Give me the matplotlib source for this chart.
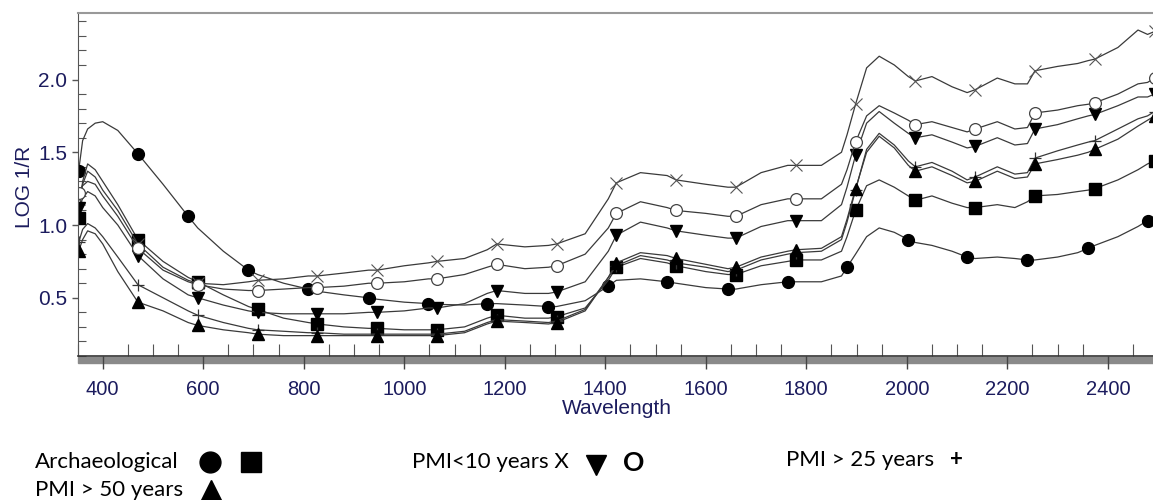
import matplotlib
matplotlib.use("Agg")
import matplotlib.pyplot as plt
from matplotlib.ticker import MultipleLocator
from matplotlib.lines import Line2D
from matplotlib.patches import Rectangle

# wavelength grid the curves were read at
wl = [352, 360, 370, 385, 400, 430, 470, 520, 570, 589,
      640, 690, 708, 760, 809, 827, 880, 929, 946, 1000,
      1048, 1065, 1120, 1165, 1184, 1240, 1287, 1303, 1360, 1406,
      1422, 1470, 1523, 1541, 1600, 1644, 1660, 1710, 1763, 1779,
      1830, 1870, 1881, 1898, 1920, 1945, 1975, 2003, 2017, 2050,
      2090, 2120, 2136, 2180, 2215, 2240, 2255, 2300, 2340, 2361,
      2374, 2420, 2460, 2479, 2493]

# archaeological (circle)
arch_circle = [1.37, 1.58, 1.66, 1.70, 1.71, 1.65, 1.49, 1.28, 1.06, 0.98,
               0.82, 0.69, 0.66, 0.60, 0.56, 0.545, 0.52, 0.50, 0.49, 0.47,
               0.46, 0.455, 0.45, 0.46, 0.46, 0.45, 0.44, 0.44, 0.48, 0.58,
               0.62, 0.63, 0.61, 0.60, 0.57, 0.56, 0.56, 0.59, 0.61, 0.61,
               0.61, 0.65, 0.71, 0.80, 0.92, 0.98, 0.95, 0.90, 0.88, 0.86,
               0.82, 0.78, 0.77, 0.78, 0.77, 0.76, 0.76, 0.78, 0.81, 0.84,
               0.86, 0.92, 0.99, 1.03, 1.05]
# archaeological (square)
arch_square = [1.05, 1.30, 1.42, 1.38, 1.30, 1.14, 0.90, 0.75, 0.64, 0.61,
               0.52, 0.44, 0.42, 0.36, 0.33, 0.32, 0.30, 0.29, 0.29, 0.28,
               0.28, 0.28, 0.30, 0.36, 0.38, 0.36, 0.36, 0.37, 0.43, 0.62,
               0.71, 0.77, 0.74, 0.72, 0.68, 0.66, 0.66, 0.72, 0.75, 0.76,
               0.76, 0.82, 0.92, 1.10, 1.27, 1.31, 1.26, 1.20, 1.17, 1.20,
               1.15, 1.12, 1.12, 1.14, 1.12, 1.16, 1.20, 1.21, 1.23, 1.24,
               1.25, 1.31, 1.38, 1.42, 1.44]
# PMI<10 years
pmi10_x = [1.18, 1.28, 1.37, 1.33, 1.24, 1.10, 0.87, 0.71, 0.62, 0.60,
           0.59, 0.61, 0.62, 0.63, 0.65, 0.65, 0.67, 0.69, 0.69, 0.72,
           0.74, 0.75, 0.77, 0.83, 0.87, 0.85, 0.86, 0.87, 0.94, 1.18,
           1.29, 1.36, 1.34, 1.31, 1.28, 1.26, 1.26, 1.36, 1.41, 1.41,
           1.41, 1.50, 1.62, 1.83, 2.08, 2.16, 2.10, 2.02, 1.99, 2.02,
           1.95, 1.91, 1.93, 2.01, 1.97, 1.97, 2.06, 2.09, 2.11, 2.13,
           2.14, 2.22, 2.34, 2.31, 2.33]
pmi10_down = [1.12, 1.18, 1.23, 1.20, 1.12, 1.00, 0.79, 0.63, 0.52, 0.50,
              0.45, 0.41, 0.40, 0.39, 0.39, 0.39, 0.39, 0.40, 0.40, 0.41,
              0.43, 0.43, 0.46, 0.53, 0.55, 0.53, 0.53, 0.54, 0.61, 0.82,
              0.93, 1.02, 0.98, 0.96, 0.93, 0.91, 0.91, 0.99, 1.03, 1.03,
              1.03, 1.14, 1.26, 1.48, 1.70, 1.78, 1.70, 1.63, 1.60, 1.62,
              1.57, 1.53, 1.54, 1.60, 1.55, 1.56, 1.66, 1.69, 1.73, 1.75,
              1.76, 1.82, 1.88, 1.88, 1.90]
pmi10_open = [1.22, 1.27, 1.30, 1.28, 1.20, 1.06, 0.84, 0.69, 0.61, 0.59,
              0.56, 0.55, 0.55, 0.56, 0.57, 0.57, 0.58, 0.60, 0.60, 0.61,
              0.63, 0.63, 0.66, 0.71, 0.73, 0.70, 0.71, 0.72, 0.80, 0.98,
              1.08, 1.16, 1.12, 1.10, 1.08, 1.06, 1.06, 1.14, 1.18, 1.18,
              1.18, 1.28, 1.38, 1.57, 1.75, 1.82, 1.77, 1.72, 1.69, 1.71,
              1.67, 1.64, 1.66, 1.71, 1.66, 1.67, 1.77, 1.79, 1.82, 1.83,
              1.84, 1.90, 1.97, 1.98, 2.01]
# PMI > 25 years
pmi25 = [0.88, 0.97, 1.01, 0.98, 0.92, 0.78, 0.59, 0.50, 0.41, 0.38,
         0.33, 0.29, 0.28, 0.27, 0.26, 0.26, 0.25, 0.25, 0.25, 0.25,
         0.25, 0.25, 0.27, 0.33, 0.35, 0.34, 0.33, 0.34, 0.42, 0.64,
         0.72, 0.79, 0.76, 0.74, 0.71, 0.68, 0.69, 0.76, 0.80, 0.81,
         0.82, 0.90, 1.02, 1.24, 1.52, 1.63, 1.55, 1.44, 1.40, 1.43,
         1.37, 1.31, 1.33, 1.40, 1.35, 1.36, 1.46, 1.51, 1.55, 1.57,
         1.58, 1.66, 1.73, 1.75, 1.78]
# PMI > 50 years
pmi50 = [0.82, 0.90, 0.96, 0.94, 0.87, 0.68, 0.47, 0.41, 0.33, 0.31,
         0.28, 0.26, 0.25, 0.24, 0.24, 0.24, 0.24, 0.24, 0.24, 0.24,
         0.24, 0.24, 0.26, 0.32, 0.34, 0.33, 0.32, 0.33, 0.41, 0.64,
         0.74, 0.81, 0.79, 0.77, 0.73, 0.70, 0.71, 0.78, 0.82, 0.83,
         0.84, 0.92, 1.04, 1.25, 1.50, 1.61, 1.53, 1.41, 1.37, 1.40,
         1.34, 1.29, 1.30, 1.37, 1.32, 1.33, 1.42, 1.45, 1.48, 1.50,
         1.52, 1.59, 1.68, 1.72, 1.75]

# where the symbols sit along the curves
marks_std = [352, 470, 589, 708, 827, 946, 1065, 1184, 1303, 1422,
             1541, 1660, 1779, 1898, 2017, 2136, 2255, 2374, 2493]
marks_circle = [352, 470, 570, 690, 809, 929, 1048, 1165, 1287, 1406,
                1523, 1644, 1763, 1881, 2003, 2120, 2240, 2361, 2479]
wl_idx = {w: i for i, w in enumerate(wl)}

navy = "#1c1c5e"
line_col = "#3a3a3a"

fig = plt.figure(figsize=(11.53, 5.0), dpi=100)
ax = fig.add_axes([77.6/1153, 144/500, 1080.5/1153, 343/500])

series = [
    (arch_circle, marks_circle, dict(marker="o", ms=8.5, mfc="black", mec="black")),
    (arch_square, marks_std, dict(marker="s", ms=8, mfc="black", mec="black")),
    (pmi10_x, marks_std, dict(marker="x", ms=8, mec="#555555", mew=0.8)),
    (pmi10_down, marks_std, dict(marker="v", ms=9, mfc="black", mec="black")),
    (pmi10_open, marks_std, dict(marker="o", ms=8.5, mfc="white", mec="#444444", mew=0.9)),
    (pmi25, marks_std, dict(marker="+", ms=8, mec="#333333", mew=0.9)),
    (pmi50, marks_std, dict(marker="^", ms=9, mfc="black", mec="black")),
]
for vals, marks, style in series:
    ax.plot(wl, vals, color=line_col, lw=0.9,
            markevery=[wl_idx[m] for m in marks], **style)

ax.set_xlim(350, 2500)
ax.set_ylim(0.1, 2.457)
ax.xaxis.set_major_locator(MultipleLocator(200))
ax.xaxis.set_minor_locator(MultipleLocator(50))
ax.yaxis.set_major_locator(MultipleLocator(0.5))
ax.yaxis.set_minor_locator(MultipleLocator(0.1))
ax.yaxis.set_major_formatter(plt.FormatStrFormatter("%.1f"))

ax.tick_params(axis="x", which="major", direction="out", length=9, width=1,
               color="#444444", labelsize=14.5, labelcolor=navy, pad=8,
               labelfontfamily="Liberation Sans")
ax.tick_params(axis="x", which="minor", direction="in", length=8.5, width=0.8,
               color="#555555")
ax.tick_params(axis="y", which="major", direction="out", length=4.5, width=1,
               color="#555555", labelsize=15, labelcolor=navy, pad=3,
               labelfontfamily="Liberation Sans")
ax.tick_params(axis="y", which="minor", direction="in", length=6, width=0.8,
               color="#555555")

ax.spines["right"].set_visible(False)
ax.spines["top"].set_color("#999999")
ax.spines["top"].set_linewidth(1.5)
ax.spines["left"].set_color("#555555")
ax.spines["bottom"].set_color("#333333")
ax.spines["bottom"].set_linewidth(1.2)

# grey bar under the plot
fig.add_artist(Rectangle((78/1153, (500-363)/500), 1, 6/500,
                         transform=fig.transFigure, color="#8a8a8a", zorder=-1))

fig.text(617/1153, 1-408/500, "Wavelength", color=navy, fontsize=15,
         family="Liberation Sans", ha="center", va="center")
fig.text(24/1153, 1-187/500, "LOG 1/R", color=navy, fontsize=15,
         family="Liberation Sans", ha="center", va="center", rotation=90)

# legend written under the chart
lfont = dict(family="Lato", fontsize=16, color="black", va="center", ha="left")
fig.text(35/1153, 1-462/500, "Archaeological", **lfont)
fig.text(412/1153, 1-462/500, "PMI<10 years X", **lfont)
fig.text(786/1153, 1-460/500, "PMI > 25 years", **lfont)
fig.text(35/1153, 1-490/500, "PMI > 50 years", **lfont)

def legend_mark(x, y, **kw):
    fig.add_artist(Line2D([x/1153], [1-y/500], transform=fig.transFigure,
                          linestyle="none", **kw))

legend_mark(210, 462, marker="o", ms=15, mfc="black", mec="black")
legend_mark(251, 462, marker="s", ms=14, mfc="black", mec="black")
legend_mark(596, 465, marker="v", ms=15, mfc="black", mec="black")
legend_mark(211, 490, marker="^", ms=15, mfc="black", mec="black")
fig.text(634/1153, 1-463/500, "O", family="Lato", fontsize=19, weight="bold",
         ha="center", va="center")
fig.text(956/1153, 1-459/500, "+", family="Lato", fontsize=16, weight="bold",
         ha="center", va="center")

fig.savefig("out.png", dpi=100)
